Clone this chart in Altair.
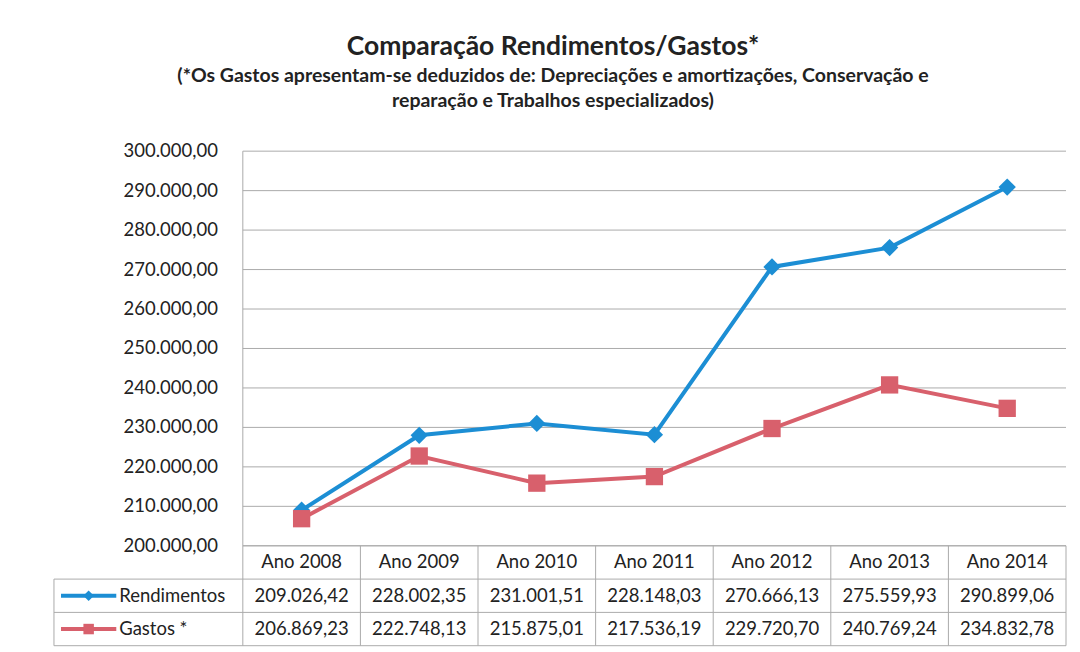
import altair as alt
import pandas as pd

# ---------------- data ----------------
categories = ["Ano 2008", "Ano 2009", "Ano 2010", "Ano 2011", "Ano 2012", "Ano 2013", "Ano 2014"]
rendimentos = [209026.42, 228002.35, 231001.51, 228148.03, 270666.13, 275559.93, 290899.06]
gastos = [206869.23, 222748.13, 215875.01, 217536.19, 229720.70, 240769.24, 234832.78]
series_names = ["Rendimentos", "Gastos *"]
series_colors = ["#1C8ED4", "#D8606C"]
series_shapes = ["diamond", "square"]
y_ticks = [200000, 210000, 220000, 230000, 240000, 250000, 260000, 270000, 280000, 290000, 300000]

title_text = "Comparação Rendimentos/Gastos*"
subtitle_lines = [
    "(*Os Gastos apresentam-se deduzidos de: Depreciações e amortizações, Conservação e",
    "reparação e Trabalhos especializados)",
]

FONT = "Lato"
FS = 18.5
TXT = "#222222"
GRID = "#ababab"


def pt(v):
    s = f"{v:,.2f}"
    return s.replace(",", "_").replace(".", ",").replace("_", ".")


N = len(categories)
L = 1.606          # width of the label column of the data table, in category units
W = 1013           # plot width (label column + categories)
H_PLOT = 395
H_TAB = 100

rows = []
for si, (name, vals) in enumerate(zip(series_names, [rendimentos, gastos])):
    for i, (c, v) in enumerate(zip(categories, vals)):
        rows.append({"cat": c, "pos": i + 0.5, "series": name, "value": v,
                     "label": pt(v), "row": si + 1.5})
df = pd.DataFrame(rows)

xscale = alt.Scale(domain=[-L, N], nice=False, zero=False)
yscale = alt.Scale(domain=[y_ticks[0], y_ticks[-1]], nice=False, zero=False)
color = alt.Color("series:N", scale=alt.Scale(domain=series_names, range=series_colors), legend=None)
shape = alt.Shape("series:N", scale=alt.Scale(domain=series_names, range=series_shapes), legend=None)

# ---------------- top plot ----------------
grid_df = pd.DataFrame({"y": y_ticks, "x0": 0, "x1": N, "lab": [pt(t) for t in y_ticks]})
grid = alt.Chart(grid_df).mark_rule(color=GRID, strokeWidth=1).encode(
    x=alt.X("x0:Q", scale=xscale, axis=None), x2="x1:Q",
    y=alt.Y("y:Q", scale=yscale, axis=None))
axis_line = alt.Chart(pd.DataFrame({"x": [0], "y0": [y_ticks[0]], "y1": [y_ticks[-1]]})).mark_rule(
    color=GRID, strokeWidth=1).encode(
    x=alt.X("x:Q", scale=xscale, axis=None),
    y=alt.Y("y0:Q", scale=yscale, axis=None), y2="y1:Q")
ylabels = alt.Chart(grid_df).mark_text(align="right", baseline="middle", dx=-25,
                                       font=FONT, fontSize=FS, color=TXT).encode(
    x=alt.X("x0:Q", scale=xscale, axis=None),
    y=alt.Y("y:Q", scale=yscale, axis=None), text="lab:N")
lines = alt.Chart(df).mark_line(strokeWidth=4).encode(
    x=alt.X("pos:Q", scale=xscale, axis=None),
    y=alt.Y("value:Q", scale=yscale, axis=None), color=color, detail="series:N")
points = alt.Chart(df).mark_point(filled=True, size=300, opacity=1).encode(
    x=alt.X("pos:Q", scale=xscale, axis=None),
    y=alt.Y("value:Q", scale=yscale, axis=None), color=color, shape=shape)

top = alt.layer(grid, axis_line, ylabels, lines, points).properties(width=W, height=H_PLOT)

# ---------------- data table ----------------
tscale = alt.Scale(domain=[0, 3], nice=False, zero=False, reverse=True)
h_df = pd.DataFrame({"y": [0, 1, 2, 3], "x0": [0, -L, -L, -L], "x1": [N] * 4})
v_df = pd.DataFrame({"x": [-L] + list(range(N + 1)), "y0": [1] + [0] * (N + 1), "y1": [3] * (N + 2)})
hl = alt.Chart(h_df).mark_rule(color=GRID, strokeWidth=1).encode(
    x=alt.X("x0:Q", scale=xscale, axis=None), x2="x1:Q",
    y=alt.Y("y:Q", scale=tscale, axis=None))
vl = alt.Chart(v_df).mark_rule(color=GRID, strokeWidth=1).encode(
    x=alt.X("x:Q", scale=xscale, axis=None),
    y=alt.Y("y0:Q", scale=tscale, axis=None), y2="y1:Q")
head_df = pd.DataFrame({"cat": categories, "pos": [i + 0.5 for i in range(N)], "row": 0.5})
head = alt.Chart(head_df).mark_text(baseline="middle", font=FONT, fontSize=FS, color=TXT).encode(
    x=alt.X("pos:Q", scale=xscale, axis=None),
    y=alt.Y("row:Q", scale=tscale, axis=None), text="cat:N")
vals = alt.Chart(df).mark_text(baseline="middle", font=FONT, fontSize=FS, color=TXT).encode(
    x=alt.X("pos:Q", scale=xscale, axis=None),
    y=alt.Y("row:Q", scale=tscale, axis=None), text="label:N")
key_df = pd.DataFrame({"series": series_names, "row": [1.5, 2.5],
                       "k0": -L + 0.06, "k1": -L + 0.53, "km": -L + 0.295, "kt": -L + 0.555})
key_line = alt.Chart(key_df).mark_rule(strokeWidth=4).encode(
    x=alt.X("k0:Q", scale=xscale, axis=None), x2="k1:Q",
    y=alt.Y("row:Q", scale=tscale, axis=None), color=color)
key_pt = alt.Chart(key_df).mark_point(filled=True, size=110, opacity=1).encode(
    x=alt.X("km:Q", scale=xscale, axis=None),
    y=alt.Y("row:Q", scale=tscale, axis=None), color=color, shape=shape)
key_txt = alt.Chart(key_df).mark_text(align="left", baseline="middle", font=FONT, fontSize=FS,
                                      color=TXT).encode(
    x=alt.X("kt:Q", scale=xscale, axis=None),
    y=alt.Y("row:Q", scale=tscale, axis=None), text="series:N")

table = alt.layer(hl, vl, head, vals, key_line, key_pt, key_txt).properties(width=W, height=H_TAB)

chart = alt.vconcat(top, table, spacing=0, bounds="flush").properties(
    title=alt.TitleParams(
        text=title_text, subtitle=subtitle_lines, anchor="middle", dx=-7,
        font=FONT, fontSize=26.5, fontWeight="bold", color=TXT,
        subtitleFont=FONT, subtitleFontSize=19.5, subtitleFontWeight="bold",
        subtitleColor=TXT, subtitleLineHeight=25, subtitlePadding=6, offset=32),
    padding={"left": 45, "top": 26, "right": 5, "bottom": 0},
).configure(background="white", view=alt.ViewConfig(stroke="transparent", strokeWidth=0))

chart.save("out.html", embed_options={"renderer": "svg", "actions": False})
